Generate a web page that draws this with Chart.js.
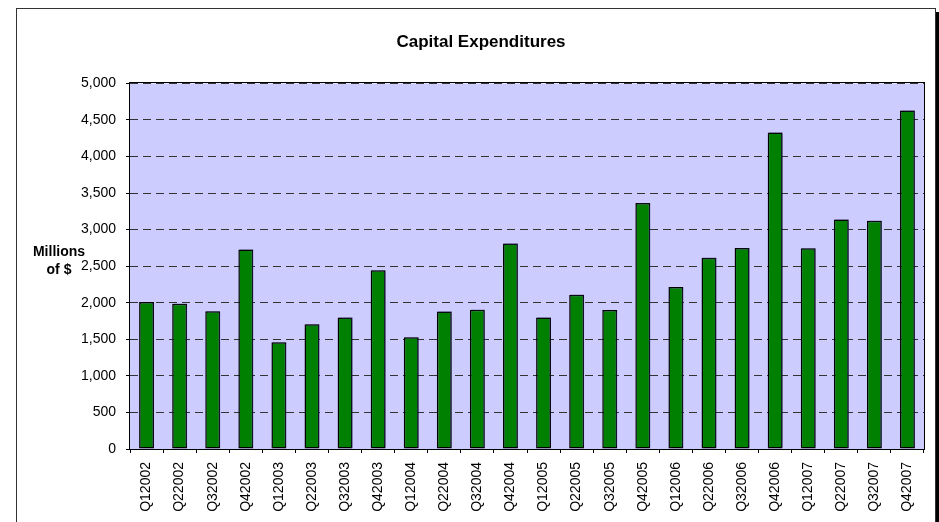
<!DOCTYPE html>
<html>
<head>
<meta charset="utf-8">
<script src="https://cdn.jsdelivr.net/npm/chart.js@4.4.1/dist/chart.umd.min.js"></script>
<style>
  html, body { margin: 0; padding: 0; background: #fff; }
  #wrap { width: 939px; height: 522px; position: relative; }
</style>
</head>
<body>
<div id="wrap"><canvas id="c" width="939" height="522"></canvas></div>
<script>
const chartTitle = 'Capital Expenditures';
const yAxisLabel = ['Millions', 'of $'];
const categories = ['Q12002','Q22002','Q32002','Q42002','Q12003','Q22003','Q32003','Q42003',
  'Q12004','Q22004','Q32004','Q42004','Q12005','Q22005','Q32005','Q42005',
  'Q12006','Q22006','Q32006','Q42006','Q12007','Q22007','Q32007','Q42007'];
const capexValues = [2010, 1985, 1885, 2730, 1460, 1705, 1800, 2445,
  1530, 1880, 1905, 2810, 1800, 2110, 1900, 3365,
  2215, 2615, 2750, 4330, 2745, 3140, 3120, 4630];
const yMin = 0, yMax = 5000, yStep = 500;

const FONT = 'Arial, "Liberation Sans", sans-serif';

const framePlugin = {
  id: 'frame',
  beforeDraw(chart) {
    const ctx = chart.ctx, a = chart.chartArea;
    ctx.save();
    ctx.fillStyle = '#fff';
    ctx.fillRect(0, 0, chart.width, chart.height);
    // outer chart frame
    ctx.strokeStyle = '#333';
    ctx.lineWidth = 1;
    ctx.strokeRect(16.5, 8.5, 919, 600);
    ctx.fillStyle = '#000';
    ctx.fillRect(936, 12, 3, chart.height - 12);
    // plot background
    ctx.fillStyle = '#CCCCFF';
    ctx.fillRect(a.left, a.top, a.right - a.left, a.bottom - a.top);
    ctx.restore();
  },
  beforeDatasetsDraw(chart) {
    const ctx = chart.ctx;
    ctx.save();
    ctx.shadowColor = 'rgba(40,40,90,0.45)';
    ctx.shadowOffsetX = 1.5;
    ctx.shadowOffsetY = -1;
    ctx.shadowBlur = 1;
  },
  afterDatasetsDraw(chart) {
    chart.ctx.restore();
  },
  afterDraw(chart) {
    const ctx = chart.ctx, a = chart.chartArea;
    ctx.save();
    ctx.strokeStyle = '#000';
    ctx.lineWidth = 1;
    ctx.strokeRect(Math.round(a.left) - 0.5, Math.round(a.top) - 0.5,
      Math.round(a.right - a.left) + 1, Math.round(a.bottom - a.top) + 1);
    // y axis label
    ctx.fillStyle = '#000';
    ctx.font = 'bold 14px ' + FONT;
    ctx.textAlign = 'center';
    ctx.textBaseline = 'middle';
    ctx.fillText(yAxisLabel[0], 59, 252);
    ctx.fillText(yAxisLabel[1], 59, 270);
    ctx.restore();
  }
};

new Chart(document.getElementById('c'), {
  type: 'bar',
  data: {
    labels: categories,
    datasets: [{
      data: capexValues,
      backgroundColor: '#008000',
      borderColor: '#000',
      borderWidth: 1.5,
      borderSkipped: false,
      barPercentage: 0.45,
      categoryPercentage: 1.0
    }]
  },
  options: {
    responsive: false,
    animation: false,
    devicePixelRatio: 1,
    layout: { padding: { left: 38, right: 15, top: 8, bottom: 0 } },
    plugins: {
      legend: { display: false },
      tooltip: { enabled: false },
      title: {
        display: true,
        text: chartTitle,
        color: '#000',
        font: { family: FONT, size: 17, weight: 'bold', lineHeight: 1.2 },
        padding: { top: 24, bottom: 31 }
      }
    },
    scales: {
      x: {
        grid: { display: true, drawOnChartArea: false, drawTicks: true, tickLength: 4, color: '#000', offset: true },
        border: { display: false },
        ticks: {
          autoSkip: false, maxRotation: 90, minRotation: 90, padding: 9,
          color: '#000', font: { family: FONT, size: 14 }
        },
        afterFit(scale) { scale.height = 73; }
      },
      y: {
        min: yMin, max: yMax,
        grid: { color: '#333', lineWidth: 1, tickLength: 4, tickColor: '#000', tickBorderDash: [] },
        border: { display: false, dash: [8, 5] },
        ticks: {
          stepSize: yStep, padding: 10, color: '#000',
          font: { family: FONT, size: 14 },
          callback: (v) => v.toLocaleString('en-US')
        },
        afterFit(scale) { scale.width = 92; }
      }
    }
  },
  plugins: [framePlugin]
});
</script>
</body>
</html>
